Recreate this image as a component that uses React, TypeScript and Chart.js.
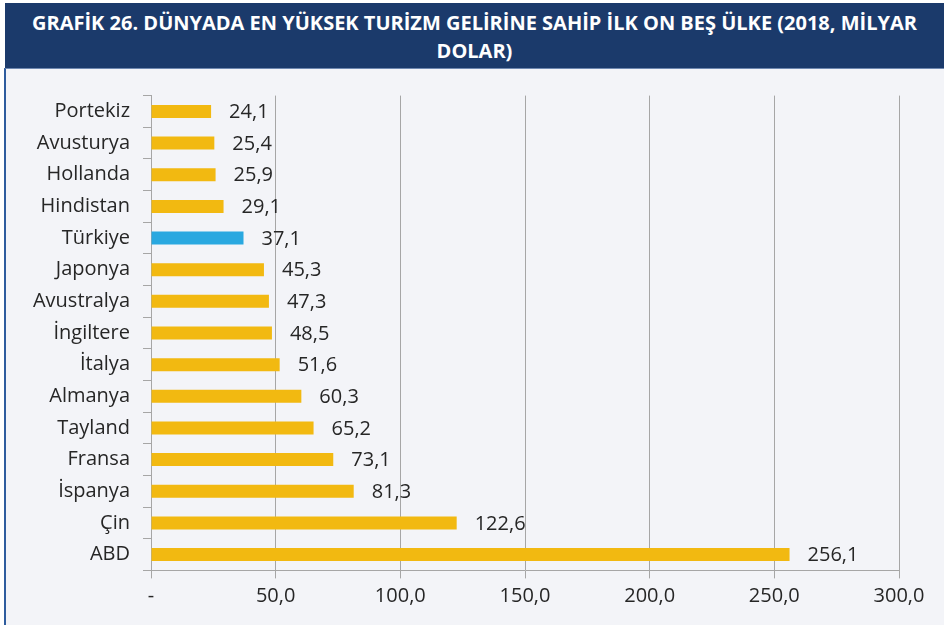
import React, { useEffect, useRef } from "react";
import { Chart, registerables } from "chart.js";

Chart.register(...registerables);

const categories = [
  "Portekiz", "Avusturya", "Hollanda", "Hindistan", "Türkiye", "Japonya", "Avustralya",
  "İngiltere", "İtalya", "Almanya", "Tayland", "Fransa", "İspanya", "Çin", "ABD",
];
const values = [24.1, 25.4, 25.9, 29.1, 37.1, 45.3, 47.3, 48.5, 51.6, 60.3, 65.2, 73.1, 81.3, 122.6, 256.1];
const highlight = "Türkiye";
const xTicks = [0, 50, 100, 150, 200, 250, 300];
const titleLines = [
  "GRAFİK 26. DÜNYADA EN YÜKSEK TURİZM GELİRİNE SAHİP İLK ON BEŞ ÜLKE (2018, MİLYAR",
  "DOLAR)",
];

const FONT = "'Open Sans', 'Noto Sans', sans-serif";
const GOLD = "#f2b911";
const BLUE = "#29a8e0";

const fmt = (v: number) => (v === 0 ? "-" : v.toFixed(1).replace(".", ","));

const labelPlugin = {
  id: "barLabels",
  afterDatasetsDraw(chart: any) {
    const ctx = chart.ctx;
    const meta = chart.getDatasetMeta(0);
    ctx.save();
    ctx.font = `20px ${FONT}`;
    ctx.fillStyle = "#262626";
    ctx.textAlign = "left";
    ctx.textBaseline = "middle";
    meta.data.forEach((el: any, i: number) => {
      ctx.fillText(fmt(values[i]), el.x + 18, el.y + 1);
    });
    ctx.restore();
  },
};

export default function App() {
  const ref = useRef<HTMLCanvasElement | null>(null);

  useEffect(() => {
    document.body.style.margin = "0";
    if (!ref.current) return;
    const chart = new Chart(ref.current, {
      type: "bar",
      data: {
        labels: categories,
        datasets: [
          {
            data: values,
            backgroundColor: categories.map((c) => (c === highlight ? BLUE : GOLD)),
            borderWidth: 0,
            categoryPercentage: 1,
            barPercentage: 0.41,
          },
        ],
      },
      options: {
        indexAxis: "y",
        animation: false,
        responsive: false,
        maintainAspectRatio: false,
        layout: { padding: { top: 26.6, right: 45, left: 0, bottom: 0 } },
        plugins: { legend: { display: false }, tooltip: { enabled: false }, title: { display: false } },
        scales: {
          x: {
            min: 0,
            max: 300,
            afterBuildTicks: (s: any) => {
              s.ticks = xTicks.map((v) => ({ value: v }));
            },
            afterFit: (s: any) => {
              s.height = 54.6;
            },
            grid: { color: "#a6a6a6", lineWidth: 1, tickLength: 8, drawTicks: true },
            border: { display: true, color: "#a6a6a6" },
            ticks: {
              color: "#262626",
              font: { family: FONT, size: 20 },
              padding: 6,
              maxRotation: 0,
              callback: (v: any) => fmt(Number(v)),
            },
          },
          y: {
            afterFit: (s: any) => {
              s.width = 145;
            },
            grid: { drawOnChartArea: false, drawTicks: true, tickLength: 8, color: "#a6a6a6", offset: true },
            border: { display: true, color: "#a6a6a6" },
            ticks: {
              color: "#262626",
              font: { family: FONT, size: 20 },
              padding: 13,
            },
          },
        },
      },
      plugins: [labelPlugin],
    });
    return () => chart.destroy();
  }, []);

  return (
    <div style={{ position: "relative", width: 944, height: 625, background: "#ffffff", overflow: "hidden" }}>
      <div
        style={{
          position: "absolute",
          left: 5,
          top: 3,
          width: 939,
          height: 65,
          background: "#1b3a6b",
          color: "#ffffff",
          fontFamily: FONT,
          fontWeight: 700,
          fontSize: 20,
          lineHeight: "28px",
          textAlign: "center",
          paddingTop: 6,
          boxSizing: "border-box",
        }}
      >
        {titleLines.map((t, i) => (
          <div key={i} style={{ whiteSpace: "nowrap" }}>
            {t}
          </div>
        ))}
      </div>
      <div
        style={{
          position: "absolute",
          left: 4,
          top: 68,
          width: 940,
          height: 557,
          background: "#f3f4f8",
          borderLeft: "2px solid #2e5c9e",
          borderTop: "1px solid #6f88b0",
          boxSizing: "border-box",
        }}
      >
        <canvas ref={ref} width={938} height={556} style={{ display: "block" }} />
      </div>
    </div>
  );
}
